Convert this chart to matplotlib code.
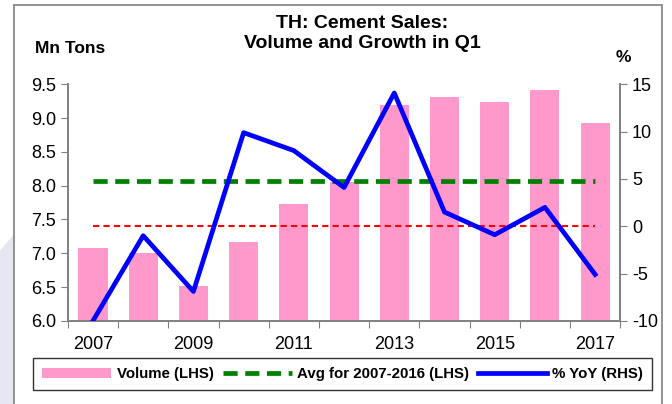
import numpy as np
import matplotlib.pyplot as plt
from matplotlib.patches import Rectangle, Polygon

plt.rcParams["font.family"] = ["Liberation Sans", "DejaVu Sans"]
plt.rcParams["axes.unicode_minus"] = False

years = ["2007", "2008", "2009", "2010", "2011", "2012", "2013", "2014", "2015", "2016", "2017"]
volume = [7.08, 7.00, 6.52, 7.16, 7.73, 8.05, 9.19, 9.32, 9.24, 9.42, 8.93]
yoy = [-10.0, -1.0, -6.9, 9.9, 8.0, 4.1, 14.1, 1.5, -0.9, 2.0, -5.1]
avg_2007_2016 = 8.07
zero_line = 0.0

x = np.arange(len(years))

fig = plt.figure(figsize=(6.72, 4.04), dpi=100)

# faint decorative shape on the left edge and the outer frame
fig.patches.append(Polygon([(0, 0), (0.021, 0), (0.021, 0.42), (0, 0.38)],
                           closed=True, transform=fig.transFigure,
                           facecolor="#e6e6f0", edgecolor="none", zorder=-10))
fig.patches.append(Rectangle((0.021, -0.01), 0.964, 0.998, transform=fig.transFigure,
                             facecolor="white", edgecolor="#808080", lw=1.2, zorder=-10))

ax = fig.add_axes([0.101, 0.206, 0.822, 0.585])
ax2 = ax.twinx()

bars = ax.bar(x, volume, width=0.58, color="#ff99cc", zorder=1, label="Volume (LHS)")
avg_line, = ax.plot([x[0], x[-1]], [avg_2007_2016] * 2, color="#008000", lw=3.4,
                    ls=(0, (3, 1.6)), zorder=3, label="Avg for 2007-2016 (LHS)")
ax2.plot([x[0], x[-1]], [zero_line] * 2, color="red", lw=1.5, ls=(0, (3, 2)), zorder=2)
yoy_line, = ax2.plot(x, yoy, color="blue", lw=3.4, zorder=4, label="% YoY (RHS)")

ax.set_xlim(-0.5, len(years) - 0.5)
ax.set_ylim(6.0, 9.5)
ax.set_yticks(np.arange(6.0, 9.51, 0.5))
ax.set_yticklabels([f"{v:.1f}" for v in np.arange(6.0, 9.51, 0.5)])
ax2.set_ylim(-10, 15)
ax2.set_yticks(np.arange(-10, 16, 5))

ax.set_xticks(np.arange(-0.5, len(years), 1.0))
ax.set_xticklabels([])
ax.set_xticks(x[::2], minor=True)
ax.set_xticklabels(years[::2], minor=True)
ax.tick_params(axis="x", which="major", direction="out", length=5, color="#808080")
ax.tick_params(axis="x", which="minor", length=0, labelsize=13, pad=11)
ax.tick_params(axis="y", direction="out", length=5, color="#808080", labelsize=13)
ax2.tick_params(axis="y", direction="out", length=5, color="#808080", labelsize=13)

for a in (ax, ax2):
    a.spines["top"].set_visible(False)
    for s in ("left", "right", "bottom"):
        a.spines[s].set_color("#808080")
        a.spines[s].set_linewidth(1.2)
ax2.patch.set_visible(False)
ax.patch.set_visible(False)

fig.text(0.539, 0.962, "TH: Cement Sales:\nVolume and Growth in Q1", ha="center", va="top",
         fontsize=14, fontweight="bold", linespacing=1.2)
fig.text(0.052, 0.88, "Mn Tons", ha="left", va="center", fontsize=12.5, fontweight="bold")
fig.text(0.928, 0.858, "%", ha="center", va="center", fontsize=12.5, fontweight="bold")

leg = fig.legend([bars, avg_line, yoy_line],
                 ["Volume (LHS)", "Avg for 2007-2016 (LHS)", "% YoY (RHS)"],
                 loc="center", bbox_to_anchor=(0.51, 0.074), ncol=3,
                 frameon=True, fancybox=False, edgecolor="black", handlelength=4.6,
                 columnspacing=0.6, handletextpad=0.35, borderpad=0.6,
                 prop={"weight": "bold", "size": 10.8})
leg.get_frame().set_linewidth(1.0)

fig.savefig("out.png", dpi=100)
